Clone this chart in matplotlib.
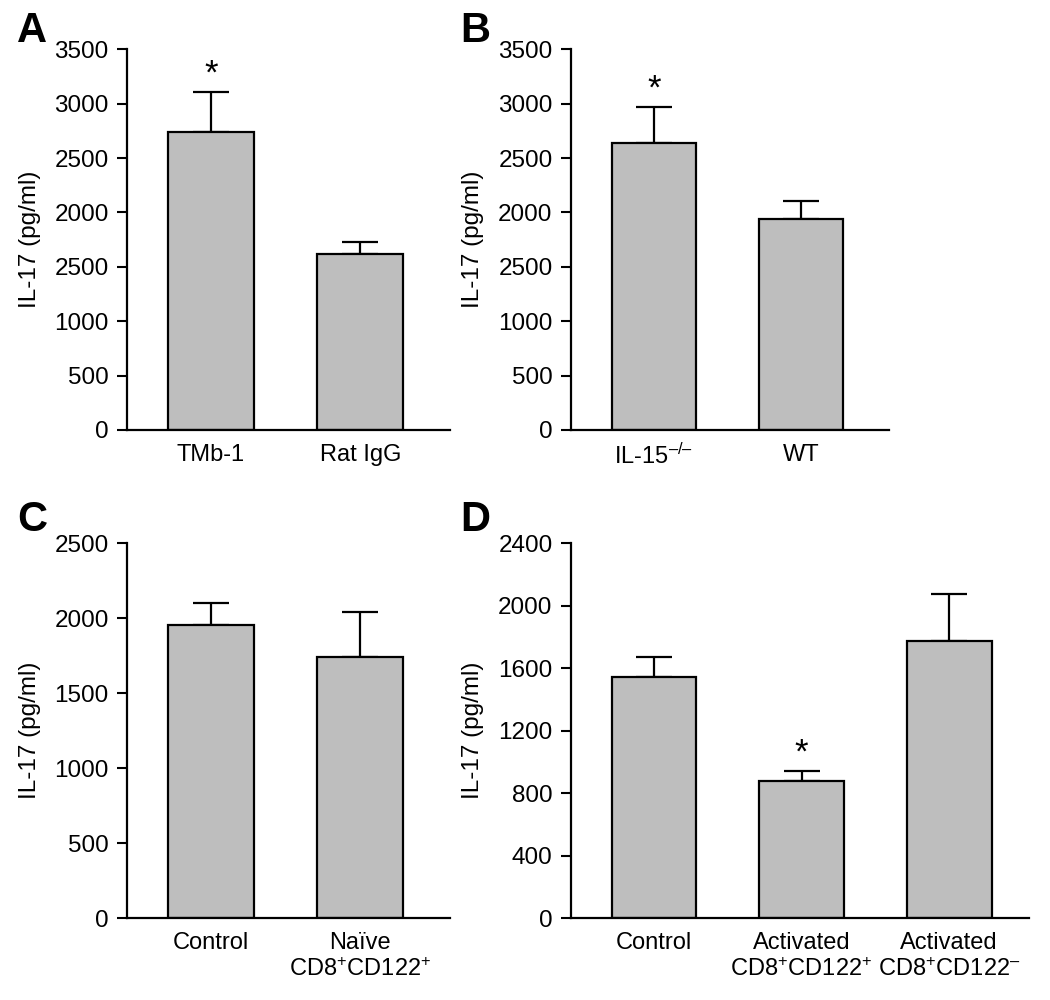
import matplotlib
matplotlib.use("Agg")
import matplotlib.pyplot as plt

plt.rcParams['font.family'] = ['Liberation Sans', 'DejaVu Sans']
plt.rcParams['mathtext.fontset'] = 'custom'
plt.rcParams['mathtext.rm'] = 'Liberation Sans'
plt.rcParams['mathtext.default'] = 'rm'

# ---- data ----
cats_a = ["TMb-1", "Rat IgG"]
vals_a = [2737, 1618]
err_a = [368, 113]
ticks_a = [0, 500, 1000, 1500, 2000, 2500, 3000, 3500]
ticklabels_a = ["0", "500", "1000", "2500", "2000", "2500", "3000", "3500"]
sig_a = [0]

cats_b = ["IL-15$^{–/–}$", "WT"]
vals_b = [2636, 1940]
err_b = [331, 165]
ticks_b = [0, 500, 1000, 1500, 2000, 2500, 3000, 3500]
ticklabels_b = ["0", "500", "1000", "2500", "2000", "2500", "3000", "3500"]
sig_b = [0]

cats_c = ["Control", "Naïve\nCD8$^{+}$CD122$^{+}$"]
vals_c = [1955, 1744]
err_c = [149, 296]
ticks_c = [0, 500, 1000, 1500, 2000, 2500]
ticklabels_c = ["0", "500", "1000", "1500", "2000", "2500"]
sig_c = []

cats_d = ["Control", "Activated\nCD8$^{+}$CD122$^{+}$", "Activated\nCD8$^{+}$CD122$^{–}$"]
vals_d = [1544, 881, 1773]
err_d = [130, 64, 303]
ticks_d = [0, 400, 800, 1200, 1600, 2000, 2400]
ticklabels_d = ["0", "400", "800", "1200", "1600", "2000", "2400"]
sig_d = [1]

panels = [
    ("A", cats_a, vals_a, err_a, ticks_a, ticklabels_a, sig_a, [0.1207, 0.57, 0.3079, 0.3807], (-0.564, 1.6)),
    ("B", cats_b, vals_b, err_b, ticks_b, ticklabels_b, sig_b, [0.5435, 0.57, 0.3032, 0.3807], (-0.567, 1.6)),
    ("C", cats_c, vals_c, err_c, ticks_c, ticklabels_c, sig_c, [0.1207, 0.0817, 0.3079, 0.375], (-0.564, 1.6)),
    ("D", cats_d, vals_d, err_d, ticks_d, ticklabels_d, sig_d, [0.5435, 0.0817, 0.4365, 0.375], (-0.564, 2.54)),
]
letter_pos = {"A": (0.016, 0.989), "B": (0.438, 0.989), "C": (0.016, 0.5), "D": (0.438, 0.5)}
label_x = {"A": 0.039, "B": 0.461, "C": 0.039, "D": 0.461}

fig = plt.figure(figsize=(10.5, 10), dpi=100)
FS = 17.5
FS_X = 17
bar_color = "#bebebe"

for letter, cats, vals, errs, ticks, tlabels, sig, rect, xlim in panels:
    ax = fig.add_axes(rect)
    x = list(range(len(cats)))
    ax.errorbar(x, vals, yerr=[[0] * len(errs), errs], fmt='none', ecolor='black',
                elinewidth=1.6, capsize=13, capthick=1.6, zorder=1)
    ax.bar(x, vals, width=0.575, color=bar_color, edgecolor='black', linewidth=1.6, zorder=2)
    ax.set_ylim(ticks[0], ticks[-1])
    ax.set_xlim(*xlim)
    ax.set_yticks(ticks)
    ax.set_yticklabels(tlabels, fontsize=FS)
    ax.set_xticks(x)
    ax.set_xticklabels(cats, fontsize=FS_X, linespacing=1.2)
    ax.tick_params(axis='x', length=0, pad=10)
    ax.tick_params(axis='y', length=7, width=1.5, pad=6, direction='out')
    for s in ['top', 'right']:
        ax.spines[s].set_visible(False)
    for s in ['left', 'bottom']:
        ax.spines[s].set_linewidth(1.6)
    ax.set_ylabel("IL-17 (pg/ml)", fontsize=FS)
    ax.yaxis.set_label_coords(label_x[letter], rect[1] + rect[3] / 2, transform=fig.transFigure)
    for i in sig:
        ax.annotate("*", xy=(x[i], vals[i] + errs[i]), xytext=(0, 1), textcoords='offset points',
                    ha='center', va='bottom', fontsize=25)
    fig.text(letter_pos[letter][0], letter_pos[letter][1], letter, fontsize=30,
             fontweight='bold', ha='left', va='top')

fig.savefig("out.png", dpi=100)
